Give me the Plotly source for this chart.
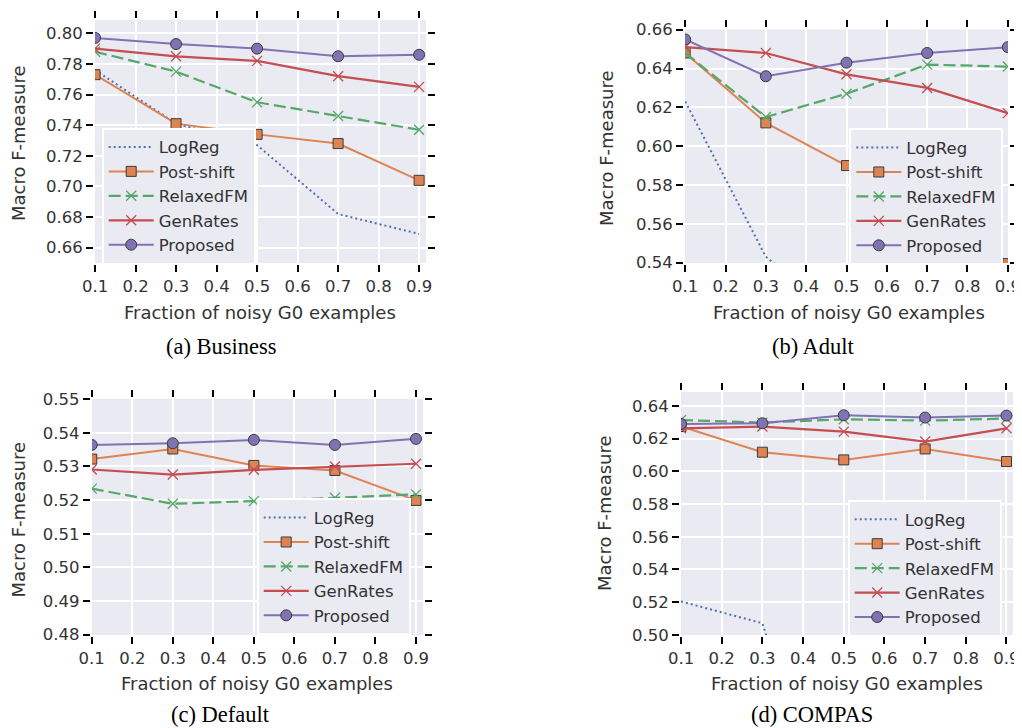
import plotly.graph_objects as go

# ---------------- data ----------------
fractions = [0.1, 0.3, 0.5, 0.7, 0.9]
series_names = ["LogReg", "Post-shift", "RelaxedFM", "GenRates", "Proposed"]
x_ticks = [0.1, 0.2, 0.3, 0.4, 0.5, 0.6, 0.7, 0.8, 0.9]

# (a) Business
logreg_business = [0.776, 0.741, 0.727, 0.682, 0.669]
postshift_business = [0.773, 0.741, 0.734, 0.728, 0.704]
relaxedfm_business = [0.788, 0.775, 0.755, 0.746, 0.737]
genrates_business = [0.790, 0.785, 0.782, 0.772, 0.765]
proposed_business = [0.797, 0.793, 0.790, 0.785, 0.786]

# (b) Adult
logreg_adult = [0.623, 0.543, 0.510, 0.480, 0.460]
postshift_adult = [0.648, 0.612, 0.590, 0.567, 0.5395]
relaxedfm_adult = [0.648, 0.615, 0.627, 0.642, 0.641]
genrates_adult = [0.651, 0.648, 0.637, 0.630, 0.617]
proposed_adult = [0.655, 0.636, 0.643, 0.648, 0.651]

# (c) Default
logreg_default = [0.470, 0.466, 0.463, 0.461, 0.459]
postshift_default = [0.5322, 0.5352, 0.5303, 0.5288, 0.5199]
relaxedfm_default = [0.5234, 0.5189, 0.5197, 0.5207, 0.5217]
genrates_default = [0.5291, 0.5276, 0.5290, 0.5300, 0.5308]
proposed_default = [0.5364, 0.5369, 0.5379, 0.5364, 0.5382]

# (d) COMPAS
logreg_compas = [0.5204, 0.5071, 0.350, 0.330, 0.320]
postshift_compas = [0.6274, 0.6117, 0.6070, 0.6137, 0.6060]
relaxedfm_compas = [0.6314, 0.6298, 0.6318, 0.6310, 0.6323]
genrates_compas = [0.6263, 0.6274, 0.6243, 0.6182, 0.6263]
proposed_compas = [0.6290, 0.6294, 0.6343, 0.6329, 0.6341]

captions = ["(a) Business", "(b) Adult", "(c) Default", "(d) COMPAS"]
x_title = "Fraction of noisy G0 examples"
y_title = "Macro F-measure"

panels = [
    [logreg_business, postshift_business, relaxedfm_business, genrates_business, proposed_business],
    [logreg_adult, postshift_adult, relaxedfm_adult, genrates_adult, proposed_adult],
    [logreg_default, postshift_default, relaxedfm_default, genrates_default, proposed_default],
    [logreg_compas, postshift_compas, relaxedfm_compas, genrates_compas, proposed_compas],
]

# ---------------- styling / layout ----------------
WIN_W, WIN_H = 1022, 728
OFF = 8  # default page body margin
W, H = WIN_W - OFF, WIN_H - OFF
BG = "#EAEAF2"
TXT = "#333333"
FONT = "DejaVu Sans"
EDGE = "rgb(60,60,60)"

colors = ["#4C72B0", "#DD8452", "#55A868", "#C44E52", "#8172B3"]

# plot areas in window pixels: (left, right, top, bottom)
areas = [
    (95, 426, 20, 263),
    (685, 1008, 29.3, 263),
    (91.7, 423.3, 398.5, 635),
    (681, 1013, 391.7, 635),
]
x_ranges = [[0.0999, 0.917], [0.0995, 0.9005], [0.0999, 0.918], [0.0999, 0.916]]
y_ranges = [[0.650, 0.8087], [0.5398, 0.6602], [0.4799, 0.5502], [0.4999, 0.6487]]
y_dticks = [0.02, 0.02, 0.01, 0.02]

legend_pos = [(101.7, 127.7), (849.3, 128.3), (256.7, 498.3), (847.7, 500)]
ytitle_pos = [(18, 143), (607, 148), (17.5, 520), (605, 513)]
xtitle_pos = [(260, 312.5), (849, 312.5), (257, 683), (847, 683)]
# caption anchors: (center x, y, yanchor)
caption_pos = [(221, 346, "middle"), (813, 346, "middle"),
               (220, 727.5, "bottom"), (812, 727.5, "bottom")]


def px_x(v):
    return (v - OFF) / W


def px_y(v):
    return 1 - (v - OFF) / H


fig = go.Figure()

for p in range(4):
    suffix = "" if p == 0 else str(p + 1)
    xa = "x" + suffix
    ya = "y" + suffix
    leg = "legend" + suffix
    vals = panels[p]
    styles = [
        dict(mode="lines", line=dict(color=colors[0], width=2, dash="2px,3px")),
        dict(mode="lines+markers", line=dict(color=colors[1], width=2),
             marker=dict(symbol="square", size=10, color=colors[1], line=dict(color=EDGE, width=1))),
        dict(mode="lines+markers", line=dict(color=colors[2], width=2.2, dash="12px,5px"),
             marker=dict(symbol="x-thin", size=10, color=colors[2], line=dict(color=colors[2], width=1.3))),
        dict(mode="lines+markers", line=dict(color=colors[3], width=2.2),
             marker=dict(symbol="x-thin", size=10, color=colors[3], line=dict(color=colors[3], width=1.3))),
        dict(mode="lines+markers", line=dict(color=colors[4], width=2),
             marker=dict(symbol="circle", size=11, color=colors[4], line=dict(color=EDGE, width=1))),
    ]
    for i, name in enumerate(series_names):
        fig.add_trace(go.Scatter(
            x=fractions, y=vals[i], name=name, xaxis=xa, yaxis=ya,
            legend=leg, legendgroup=f"{p}-{i}", cliponaxis=True, **styles[i]))

    l, r, t, b = areas[p]
    common = dict(
        showgrid=True, gridcolor="white", gridwidth=1.5, zeroline=False,
        ticks="outside", ticklen=7, tickwidth=2, tickcolor="black",
        showline=True, linecolor="white", linewidth=2, mirror="ticks",
        tickfont=dict(family=FONT, size=16.5, color=TXT),
        automargin=False,
    )
    fig.layout["xaxis" + suffix] = dict(
        domain=[px_x(l), px_x(r)], anchor=ya, range=x_ranges[p],
        tickvals=x_ticks, tickformat=".1f", **common)
    fig.layout["yaxis" + suffix] = dict(
        domain=[px_y(b), px_y(t)], anchor=xa, range=y_ranges[p],
        dtick=y_dticks[p], tick0=0, tickformat=".2f", **common)

    lx, ly = legend_pos[p]
    fig.layout[leg] = dict(
        x=px_x(lx), y=px_y(ly), xanchor="left", yanchor="top",
        xref="paper", yref="paper",
        bgcolor=BG, bordercolor="white", borderwidth=2,
        font=dict(family=FONT, size=16.5, color=TXT),
        itemwidth=45, traceorder="grouped", tracegroupgap=0,
    )

    tx, ty = ytitle_pos[p]
    fig.add_annotation(x=px_x(tx), y=px_y(ty), xref="paper", yref="paper",
                       text=y_title, textangle=-90, showarrow=False,
                       xanchor="center", yanchor="middle", borderpad=0,
                       font=dict(family=FONT, size=18, color=TXT))
    tx, ty = xtitle_pos[p]
    fig.add_annotation(x=px_x(tx), y=px_y(ty), xref="paper", yref="paper",
                       text=x_title, showarrow=False,
                       xanchor="center", yanchor="middle",
                       font=dict(family=FONT, size=18, color=TXT))
    cx, cy, cya = caption_pos[p]
    fig.add_annotation(x=px_x(cx), y=px_y(cy), xref="paper", yref="paper",
                       text=captions[p], showarrow=False, borderpad=0,
                       xanchor="center", yanchor=cya,
                       font=dict(family="Liberation Serif", size=22.5, color="black"))

fig.update_layout(
    width=W, height=H,
    margin=dict(l=0, r=0, t=0, b=0, autoexpand=False),
    paper_bgcolor="white", plot_bgcolor=BG,
    showlegend=True,
)

fig.write_html("out.html")
